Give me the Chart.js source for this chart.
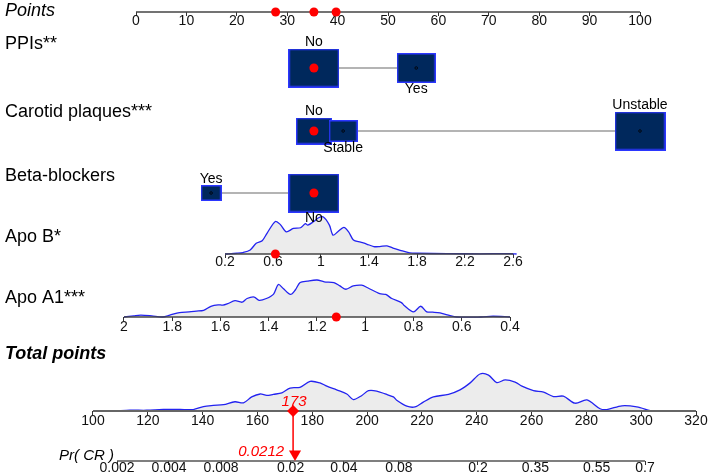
<!DOCTYPE html>
<html>
<head>
<meta charset="utf-8">
<script src="https://cdn.jsdelivr.net/npm/chart.js@4.4.1/dist/chart.umd.min.js"></script>
<style>
  html, body { margin: 0; padding: 0; background: #fff; }
  canvas { display: block; }
</style>
</head>
<body>
<canvas id="nomo" width="708" height="474"></canvas>
<script>
// ---- values ----
const pointTicks = [0, 10, 20, 30, 40, 50, 60, 70, 80, 90, 100];

const ppiLevels = ["No", "Yes"];
const ppiPoints = [35.3, 55.6];
const ppiShare = [0.63, 0.37];

const carotidLevels = ["No", "Stable", "Unstable"];
const carotidPoints = [35.3, 41.1, 100];
const carotidShare = [0.27, 0.18, 0.55];

const betaLevels = ["Yes", "No"];
const betaPoints = [14.9, 35.3];
const betaShare = [0.15, 0.85];

const apoBTicks = [0.2, 0.6, 1, 1.4, 1.8, 2.2, 2.6];
const apoBGrid = [0.2, 0.3, 0.35, 0.41, 0.46, 0.51, 0.55, 0.62, 0.66, 0.71, 0.77, 0.83, 0.87, 0.89, 0.94, 0.98, 1.02, 1.07, 1.1, 1.14, 1.19, 1.23, 1.27, 1.33, 1.38, 1.44, 1.49, 1.55, 1.6, 1.66, 1.74, 1.8, 2.05, 2.32, 2.57, 2.63];
const apoBDensity = [0, 0.02, 0.04, 0.11, 0.29, 0.36, 0.56, 0.88, 0.8, 0.6, 0.69, 0.71, 0.82, 0.78, 0.88, 0.98, 1, 0.78, 0.51, 0.6, 0.72, 0.6, 0.38, 0.32, 0.27, 0.2, 0.2, 0.22, 0.16, 0.1, 0.03, 0.02, 0.01, 0.005, 0.01, 0];

const apoA1Ticks = [2, 1.8, 1.6, 1.4, 1.2, 1, 0.8, 0.6, 0.4];
const apoA1Grid = [2, 1.96, 1.93, 1.885, 1.84, 1.81, 1.77, 1.73, 1.7, 1.67, 1.64, 1.61, 1.59, 1.57, 1.54, 1.51, 1.49, 1.46, 1.44, 1.41, 1.38, 1.36, 1.34, 1.31, 1.29, 1.27, 1.24, 1.2, 1.17, 1.13, 1.105, 1.08, 1.05, 1.015, 0.99, 0.94, 0.915, 0.89, 0.85, 0.84, 0.8, 0.77, 0.745, 0.72, 0.69, 0.66, 0.62, 0.52, 0.47, 0.4];
const apoA1Density = [0, 0.03, 0.05, 0.03, 0, 0.05, 0.12, 0.14, 0.16, 0.18, 0.29, 0.33, 0.32, 0.36, 0.44, 0.4, 0.5, 0.54, 0.45, 0.5, 0.62, 0.88, 0.77, 0.61, 0.73, 0.93, 0.97, 1, 0.95, 0.93, 0.84, 0.75, 0.84, 0.86, 0.79, 0.63, 0.61, 0.5, 0.39, 0.32, 0.14, 0.29, 0.14, 0.13, 0.11, 0.06, 0, 0, 0.02, 0];

const totalTicks = [100, 120, 140, 160, 180, 200, 220, 240, 260, 280, 300, 320];
const totalGrid = [108.6, 113.5, 119.6, 125.7, 131.8, 136.6, 140.3, 143.9, 147.6, 151.8, 154.9, 157.9, 161, 163.4, 165.8, 168.9, 171.9, 175.5, 179.2, 182.8, 185.3, 188.9, 192.6, 195, 198.1, 200.5, 203.5, 206.6, 209.6, 210.8, 214.5, 217.5, 220.5, 224.2, 229.7, 233.9, 237.6, 241.2, 244.3, 247.3, 250.4, 254, 256.5, 260.7, 264.4, 268, 271.6, 275.9, 280.2, 285, 287.5, 293, 298.4, 303.3, 304.5];
const totalDensity = [0, 0.02, 0.02, 0.04, 0.04, 0.04, 0.12, 0.15, 0.17, 0.25, 0.22, 0.38, 0.46, 0.42, 0.45, 0.49, 0.62, 0.64, 0.8, 0.76, 0.67, 0.57, 0.46, 0.31, 0.42, 0.55, 0.54, 0.46, 0.38, 0.29, 0.13, 0.11, 0.24, 0.38, 0.45, 0.57, 0.76, 1, 0.97, 0.77, 0.84, 0.78, 0.67, 0.55, 0.51, 0.39, 0.4, 0.21, 0.3, 0.06, 0.04, 0.14, 0.11, 0.01, 0];

const prTicks = [0.002, 0.004, 0.008, 0.02, 0.04, 0.08, 0.2, 0.35, 0.55, 0.7];
const prTickLabels = ["0.002", "0.004", "0.008", "0.02", "0.04", "0.08", "0.2", "0.35", "0.55", "0.7"];

// the patient marked in red
const chosen = { ppi: "No", carotid: "No", beta: "No" };
const chosenApoB = 0.62;
const chosenApoA1 = 1.12;
const chosenPoints = [27.7, 35.3, 39.7];
const chosenTotal = 173;
const chosenPr = 0.0212;

// ---- layout / style ----
const W = 708, H = 474;
const rowY = { points: 12, ppi: 68, carotid: 131, beta: 193, apoB: 254, apoA1: 317, total: 411, pr: 461 };
const densityPeak = 37;
const boxMaxW = 51, boxMaxH = 38.5;
const RED = "#ff0000", BLUE = "#2323f0", NAVY = "#00285c", EDGE = "#2b36ff";
const FONT = "'Liberation Sans', Arial, Helvetica, sans-serif";

const logit = p => Math.log(p / (1 - p));

// linear x range so value v0 sits at pixel p0 and v1 at p1
function xSpan(v0, p0, v1, p1) {
  const k = (p1 - p0) / (v1 - v0);
  const a = v0 - p0 / k, b = v0 + (W - p0) / k;
  return k > 0 ? { min: a, max: b } : { min: b, max: a, reverse: true };
}
// density y range: 0 on the axis line, 1 at the peak height
function ySpan(p0) {
  return { type: "linear", display: false, min: -(H - p0) / densityPeak, max: p0 / densityPeak };
}

function axis(span, y, ticks, label, pad) {
  return Object.assign({
    type: "linear", axis: "x", position: { y: y }, bounds: "data",
    afterBuildTicks: s => { s.ticks = ticks.map(v => ({ value: v })); },
    grid: { drawOnChartArea: false, drawTicks: true, tickLength: 4, color: "#333", lineWidth: 1 },
    border: { display: false },
    ticks: {
      autoSkip: false, maxRotation: 0, minRotation: 0, padding: pad,
      color: "#111", font: { family: FONT, size: 14 },
      callback: label || (v => String(Number(v.toFixed(4))))
    }
  }, span);
}

// box image sized by the level's share within its row
function boxSize(share, i) {
  const f = Math.sqrt(share[i] / Math.max(...share));
  return { w: Math.round(boxMaxW * f), h: Math.round(boxMaxH * f) };
}
function boxImage(w, h) {
  const c = document.createElement("canvas");
  c.width = w; c.height = h;
  const g = c.getContext("2d");
  g.fillStyle = NAVY;
  g.fillRect(0, 0, w, h);
  g.strokeStyle = EDGE;
  g.lineWidth = 1.5;
  g.strokeRect(0.75, 0.75, w - 1.5, h - 1.5);
  return c;
}

const datasets = [];

function axisLine(xID, ticks, y, color, width) {
  datasets.push({
    type: "line", xAxisID: xID, yAxisID: "y",
    data: [{ x: ticks[0], y: y }, { x: ticks[ticks.length - 1], y: y }],
    borderColor: color, borderWidth: width, pointRadius: 0, order: 11
  });
}

function catRow(levels, pts, share, y, pick) {
  datasets.push({
    type: "line", xAxisID: "x", yAxisID: "y",
    data: [{ x: Math.min(...pts), y: y }, { x: Math.max(...pts), y: y }],
    borderColor: "#b4b4b4", borderWidth: 2, pointRadius: 0, order: 9
  });
  datasets.push({
    type: "scatter", xAxisID: "x", yAxisID: "y",
    data: pts.map(p => ({ x: p, y: y })),
    pointStyle: levels.map((l, i) => { const s = boxSize(share, i); return boxImage(s.w, s.h); }),
    pointRadius: 1, order: 8
  });
  const others = pts.filter((p, i) => levels[i] !== pick);
  datasets.push({
    type: "scatter", xAxisID: "x", yAxisID: "y",
    data: others.map(p => ({ x: p, y: y })),
    pointRadius: 1.3, pointBorderWidth: 0.8, pointBorderColor: "#000", pointBackgroundColor: NAVY, order: 7
  });
  datasets.push({
    type: "scatter", xAxisID: "x", yAxisID: "y",
    data: [{ x: pts[levels.indexOf(pick)], y: y }],
    pointRadius: 4.5, pointBorderWidth: 0, pointBackgroundColor: RED, order: 2
  });
}

function densityRow(xID, yID, grid, dens) {
  datasets.push({
    type: "line", xAxisID: xID, yAxisID: yID,
    data: grid.map((g, i) => ({ x: g, y: dens[i] })),
    borderColor: BLUE, borderWidth: 1.3, backgroundColor: "#ececec",
    fill: "origin", pointRadius: 0, tension: 0.3, order: 12
  });
}

// axes lines
axisLine("x", pointTicks, rowY.points, "#444", 1.3);
axisLine("xb", apoBTicks, rowY.apoB, "#444", 1.3);
axisLine("xa", apoA1Ticks, rowY.apoA1, "#444", 1.3);
axisLine("xt", totalTicks, rowY.total, "#666", 2);
axisLine("xp", prTicks.map(logit), rowY.pr, "#555", 1.5);

// points axis red marks
datasets.push({
  type: "scatter", xAxisID: "x", yAxisID: "y",
  data: chosenPoints.map(p => ({ x: p, y: rowY.points })),
  pointRadius: 4.5, pointBorderWidth: 0, pointBackgroundColor: RED, order: 2
});

catRow(ppiLevels, ppiPoints, ppiShare, rowY.ppi, chosen.ppi);
catRow(carotidLevels, carotidPoints, carotidShare, rowY.carotid, chosen.carotid);
catRow(betaLevels, betaPoints, betaShare, rowY.beta, chosen.beta);

densityRow("xb", "yb", apoBGrid, apoBDensity);
densityRow("xa", "ya", apoA1Grid, apoA1Density);
densityRow("xt", "yt", totalGrid, totalDensity);

datasets.push({
  type: "scatter", xAxisID: "xb", yAxisID: "y",
  data: [{ x: chosenApoB, y: rowY.apoB }],
  pointRadius: 4.5, pointBorderWidth: 0, pointBackgroundColor: RED, order: 2
});
datasets.push({
  type: "scatter", xAxisID: "xa", yAxisID: "y",
  data: [{ x: chosenApoA1, y: rowY.apoA1 }],
  pointRadius: 4.5, pointBorderWidth: 0, pointBackgroundColor: RED, order: 2
});

// total points -> probability
datasets.push({
  type: "line", xAxisID: "xt", yAxisID: "y",
  data: [{ x: chosenTotal, y: rowY.total }, { x: chosenTotal, y: rowY.pr - 9 }],
  borderColor: RED, borderWidth: 1.5, pointRadius: 0, order: 3
});
datasets.push({
  type: "scatter", xAxisID: "xt", yAxisID: "y",
  data: [{ x: chosenTotal, y: rowY.total }],
  pointStyle: "rectRot", pointRadius: 6, pointBorderWidth: 0, pointBackgroundColor: RED, order: 1
});
datasets.push({
  type: "scatter", xAxisID: "xp", yAxisID: "y",
  data: [{ x: logit(chosenPr), y: rowY.pr - 7 }],
  pointStyle: "triangle", pointRotation: 180, pointRadius: 7, pointBorderWidth: 0, pointBackgroundColor: RED, order: 1
});

const titles = [
  { text: "Points", y: 11, font: "italic 18px " + FONT },
  { text: "PPIs**", y: 44, font: "18px " + FONT },
  { text: "Carotid plaques***", y: 112, font: "18px " + FONT },
  { text: "Beta-blockers", y: 176, font: "18px " + FONT },
  { text: "Apo B*", y: 237, font: "18px " + FONT },
  { text: "Apo A1***", y: 298, font: "18px " + FONT },
  { text: "Total points", y: 354, font: "italic bold 18px " + FONT }
];

const catRows = [
  { levels: ppiLevels, pts: ppiPoints, share: ppiShare, y: rowY.ppi },
  { levels: carotidLevels, pts: carotidPoints, share: carotidShare, y: rowY.carotid },
  { levels: betaLevels, pts: betaPoints, share: betaShare, y: rowY.beta }
];

const textPlugin = {
  id: "nomoText",
  afterDatasetsDraw(chart) {
    const ctx = chart.ctx;
    const sx = chart.scales.x, st = chart.scales.xt;
    ctx.save();
    ctx.textBaseline = "middle";
    ctx.fillStyle = "#000";
    ctx.textAlign = "left";
    titles.forEach(t => {
      ctx.font = t.font;
      ctx.fillText(t.text, 5, t.y);
    });
    ctx.font = "italic 15px " + FONT;
    ctx.textAlign = "right";
    ctx.fillText("Pr( CR )", 114, 456);

    // level names above / below their boxes
    ctx.font = "14px " + FONT;
    ctx.textAlign = "center";
    catRows.forEach(r => {
      r.levels.forEach((lv, i) => {
        const s = boxSize(r.share, i);
        const y = i % 2 ? r.y + s.h / 2 + 6 : r.y - s.h / 2 - 6;
        ctx.fillText(lv, sx.getPixelForValue(r.pts[i]), y);
      });
    });

    // red readouts
    ctx.fillStyle = RED;
    ctx.font = "italic 15px " + FONT;
    const tx = st.getPixelForValue(chosenTotal);
    ctx.fillText(String(chosenTotal), tx + 1, rowY.total - 9);
    ctx.textAlign = "right";
    ctx.fillText(String(chosenPr), tx - 9, rowY.pr - 9);
    ctx.restore();
  }
};

new Chart(document.getElementById("nomo"), {
  type: "scatter",
  data: { datasets: datasets },
  options: {
    responsive: false,
    animation: false,
    devicePixelRatio: 1,
    events: [],
    layout: { padding: 0, autoPadding: false },
    plugins: { legend: { display: false }, tooltip: { enabled: false } },
    scales: {
      y: { type: "linear", display: false, min: 0, max: H, reverse: true },
      yb: ySpan(rowY.apoB),
      ya: ySpan(rowY.apoA1),
      yt: ySpan(rowY.total),
      x: axis(xSpan(0, 136, 100, 640), rowY.points, pointTicks, null, -3),
      xb: axis(xSpan(0.2, 225, 2.6, 513), rowY.apoB, apoBTicks, null, -4),
      xa: axis(xSpan(2, 124, 0.4, 510), rowY.apoA1, apoA1Ticks, null, -2),
      xt: axis(xSpan(100, 93, 320, 696), rowY.total, totalTicks, null, -2),
      xp: axis(xSpan(logit(0.002), 117, logit(0.7), 645), rowY.pr, prTicks.map(logit), (v, i) => prTickLabels[i], -5)
    }
  },
  plugins: [textPlugin]
});
</script>
</body>
</html>
